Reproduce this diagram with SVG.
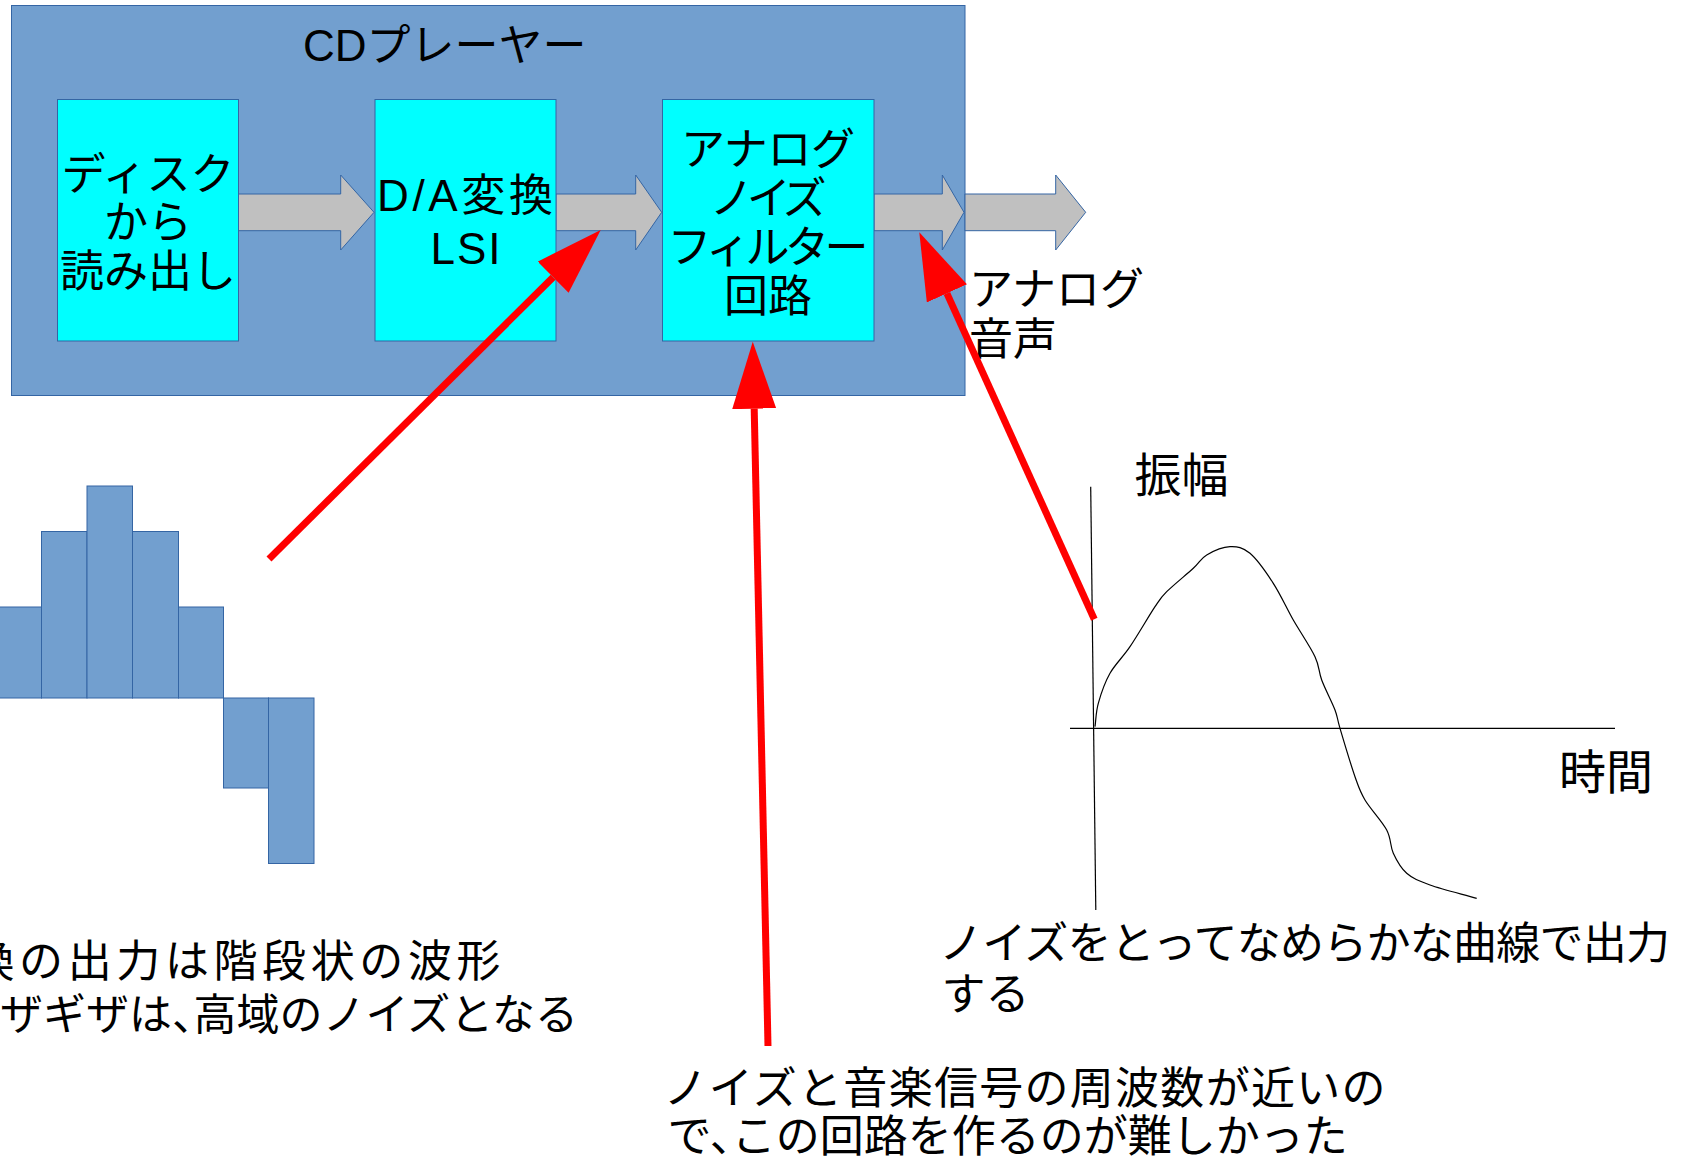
<svg xmlns="http://www.w3.org/2000/svg" width="1682" height="1156" viewBox="0 0 1682 1156">
<defs>
<style>
text{font-family:"Liberation Sans","Noto Sans CJK JP",sans-serif;font-size:44px;fill:#000}
.blue{fill:#729fcf;stroke:#3465a4;stroke-width:1}
.cyan{fill:#00ffff;stroke:#3465a4;stroke-width:1}
.flow{fill:#c0c0c0;stroke:#3465a4;stroke-width:1}
.red{stroke:#ff0000;stroke-width:7;fill:none;marker-end:url(#head)}
.thin{stroke:#000;stroke-width:1.2;fill:none}
.mid{text-anchor:middle}
.big{font-size:47px}
</style>
<marker id="head" markerUnits="userSpaceOnUse" viewBox="0 0 67 44" markerWidth="67" markerHeight="44" refX="0" refY="22" orient="auto">
<path d="M0,0 L67,22 L0,44 Z" fill="#ff0000"/>
</marker>
</defs>
<rect width="1682" height="1156" fill="#ffffff"/>

<g id="cd-player">
<rect class="blue" x="11.5" y="5.5" width="953.5" height="390"/>
<text x="303" y="61">CDプレーヤー</text>
</g>

<g id="flow-arrows">
<polygon class="flow" points="238,194 340.7,194 340.7,175 374,212.3 340.7,250 340.7,230.7 238,230.7"/>
<polygon class="flow" points="556,194 635.7,194 635.7,175 661.7,212.3 635.7,250 635.7,230.7 556,230.7"/>
<polygon class="flow" points="874,194 942.3,194 942.3,175 964,212.3 942.3,250 942.3,230.7 874,230.7"/>
<polygon class="flow" points="965,194 1055.7,194 1055.7,175 1085.7,212.3 1055.7,250 1055.7,230.7 965,230.7"/>
</g>

<g id="disc-read">
<rect class="cyan" x="57.5" y="99.5" width="181" height="241.5"/>
<text class="mid" x="148" y="190">ディスク</text>
<text class="mid" x="148" y="238">から</text>
<text class="mid" x="148" y="287">読み出し</text>
</g>

<g id="da-lsi">
<rect class="cyan" x="375" y="99.5" width="181" height="241.5"/>
<text x="377" y="210.5" textLength="176" lengthAdjust="spacing">D/A変換</text>
<text class="mid" x="465.5" y="264" textLength="70" lengthAdjust="spacing">LSI</text>
</g>

<g id="noise-filter">
<rect class="cyan" x="662.5" y="99.5" width="211.5" height="241.5"/>
<text class="mid" x="768" y="164.5" textLength="174" lengthAdjust="spacing">アナログ</text>
<text class="mid" x="768" y="214" textLength="117" lengthAdjust="spacing">ノイズ</text>
<text class="mid" x="768" y="262.5" textLength="201" lengthAdjust="spacing">フィルター</text>
<text class="mid" x="768" y="312">回路</text>
</g>

<g id="analog-out-label">
<text x="969" y="305">アナログ</text>
<text x="969" y="355">音声</text>
</g>

<g id="staircase">
<rect class="blue" x="-4" y="607" width="45.5" height="91"/>
<rect class="blue" x="41.5" y="531.5" width="45.5" height="166.5"/>
<rect class="blue" x="87" y="486" width="45.5" height="212"/>
<rect class="blue" x="132.5" y="531.5" width="46" height="166.5"/>
<rect class="blue" x="178.5" y="607" width="45" height="91"/>
<rect class="blue" x="223.5" y="698" width="45" height="90"/>
<rect class="blue" x="268.5" y="698" width="45.5" height="165.5"/>
</g>

<g id="staircase-note">
<text x="-29.5" y="977" textLength="530" lengthAdjust="spacing">換の出力は階段状の波形</text>
<text x="0" y="1030" style="font-size:43px">ザギザは、<tspan dx="-21.5">高域のノイズとなる</tspan></text>
</g>

<g id="filter-note">
<text x="663.5" y="1104" textLength="722" lengthAdjust="spacing">ノイズと音楽信号の周波数が近いの</text>
<text x="667.5" y="1152">で、<tspan dx="-22">この回路を作るのが難しかった</tspan></text>
</g>

<g id="smooth-chart">
<line class="thin" x1="1090.7" y1="486.7" x2="1095.8" y2="910"/>
<line class="thin" x1="1070" y1="728.3" x2="1615" y2="728.3"/>
<path class="thin" d="M1095,726.7 C1096.1,718.9 1095.8,712.2 1098.3,703.3 C1100.8,694.4 1104.7,682.7 1110,673.3 C1115.3,663.9 1122.5,657.8 1130,646.7 C1137.5,635.6 1148.9,615.9 1155,606.7 C1161.1,597.5 1160.3,598.1 1166.7,591.7 C1173.1,585.3 1186.6,574.4 1193.3,568.3 C1200,562.2 1200.6,558.6 1206.7,555 C1212.8,551.4 1222.8,547 1230,546.7 C1237.2,546.4 1242.8,547.2 1250,553.3 C1257.2,559.4 1266.1,572.2 1273.3,583.3 C1280.5,594.4 1286.4,607.8 1293.3,620 C1300.3,632.2 1310.3,646.7 1315,656.7 C1319.7,666.7 1318.4,671.1 1321.7,680 C1325,688.9 1332,702 1335,710 C1338,718 1336.7,717.2 1340,728.3 C1343.3,739.4 1350.8,764.8 1355,776.7 C1359.2,788.6 1359.7,791.1 1365,800 C1370.3,808.9 1382,821.1 1386.7,830 C1391.4,838.9 1390,846.1 1393.3,853.3 C1396.6,860.5 1400.6,868 1406.7,873.3 C1412.8,878.6 1418.3,880.8 1430,885 C1441.7,889.2 1461.1,893.9 1476.7,898.3"/>
<text class="big" x="1134.5" y="492">振幅</text>
<text class="big" x="1559" y="789">時間</text>
</g>

<g id="smooth-note">
<text x="939" y="958.5" textLength="731" lengthAdjust="spacing">ノイズをとってなめらかな曲線で出力</text>
<text x="941.5" y="1010">する</text>
</g>

<g id="connectors">
<line class="red" x1="269" y1="559" x2="553.1" y2="277.2"/>
<line class="red" x1="768" y1="1046" x2="754.2" y2="408.7"/>
<line class="red" x1="1094.3" y1="619.3" x2="946.9" y2="293.4"/>
</g>
</svg>
